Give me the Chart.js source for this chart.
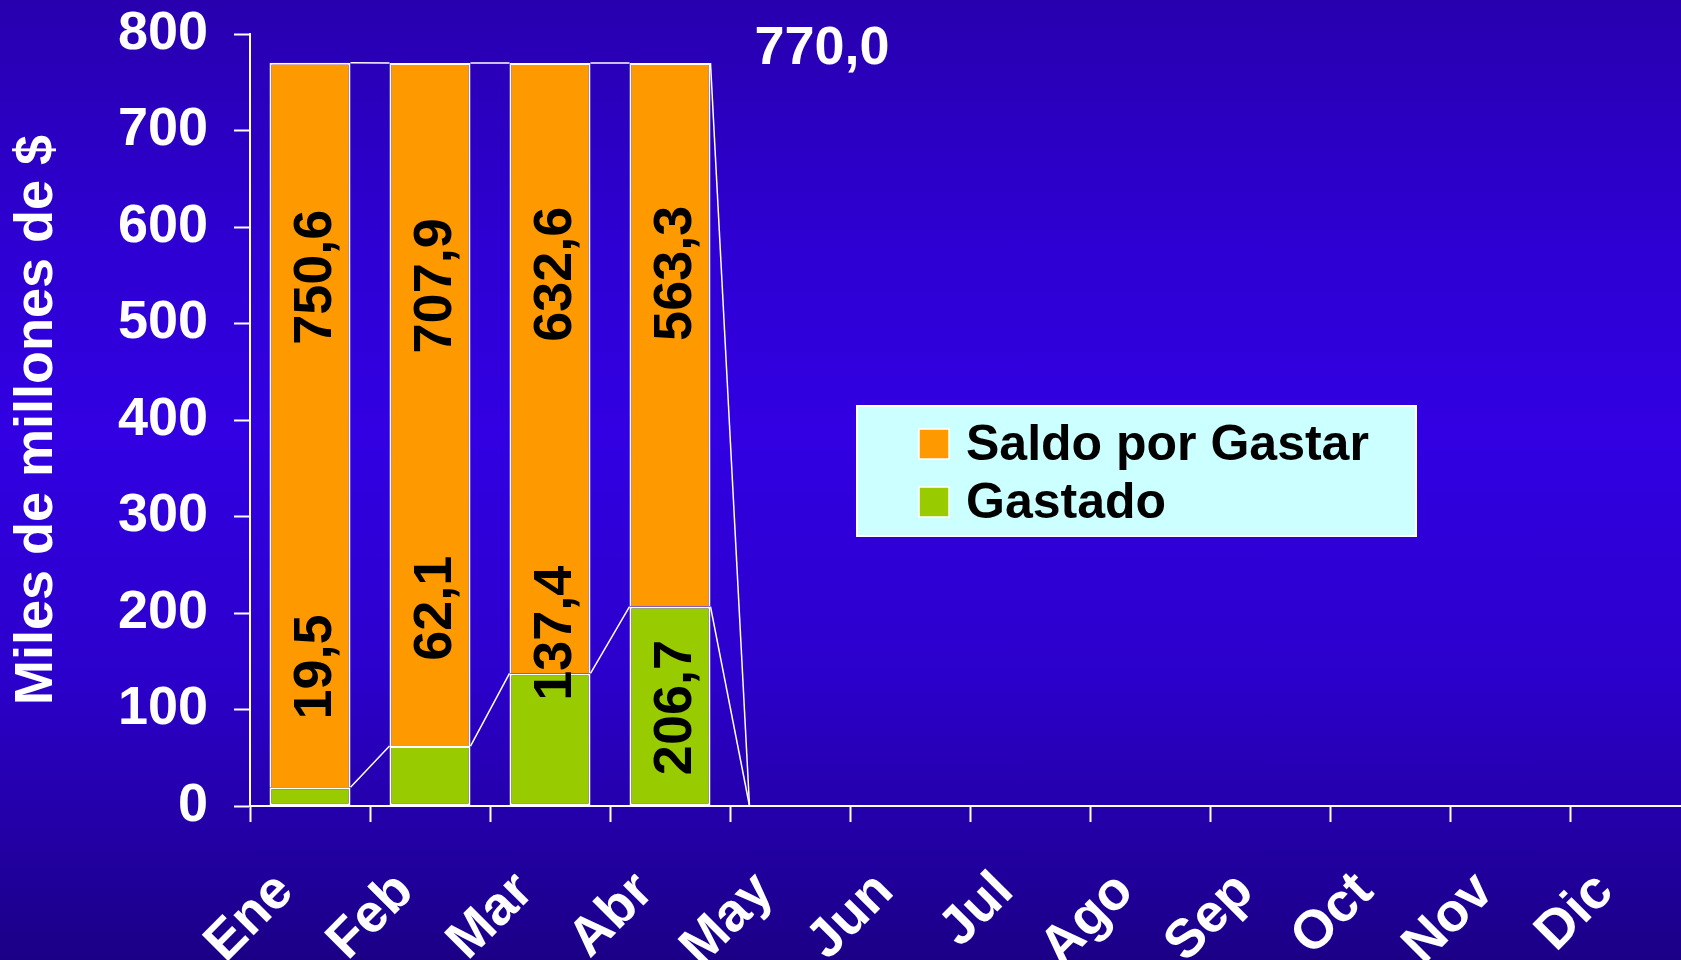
<!DOCTYPE html>
<html>
<head>
<meta charset="utf-8">
<script src="https://cdn.jsdelivr.net/npm/chart.js@4/dist/chart.umd.min.js"></script>
<style>
html, body { margin:0; padding:0; width:1681px; height:960px; overflow:hidden;
  background: linear-gradient(to bottom, #2800ae 0%, #2e00d2 25%, #3200e2 45%, #2c00cc 70%, #1b0086 100%); }
canvas { display:block; }
</style>
</head>
<body>
<canvas id="c" width="1690" height="960"></canvas>
<script>
// ---- data ----
const meses = ['Ene','Feb','Mar','Abr','May','Jun','Jul','Ago','Sep','Oct','Nov','Dic'];
const gastado = [19.5, 62.1, 137.4, 206.7, 0, null, null, null, null, null, null, null];
const saldoPorGastar = [750.6, 707.9, 632.6, 563.3, 0, null, null, null, null, null, null, null];
const presupuestoTotal = 770.0;
const yTickValues = [0, 100, 200, 300, 400, 500, 600, 700, 800];
const serieNombres = ['Gastado', 'Saldo por Gastar'];

const FONT = "'Liberation Sans', Arial, Helvetica, sans-serif";
Chart.defaults.font.family = FONT;

function fmt(v) { return v.toFixed(1).replace('.', ','); }

const decor = {
  id: 'decor',
  afterDatasetsDraw(chart, args, opts) {
    const ctx = chart.ctx;
    const y = chart.scales.y, x = chart.scales.x;
    const ds = chart.data.datasets;
    // series lines
    ctx.save();
    ctx.strokeStyle = '#ffffff';
    ctx.lineWidth = 1.5;
    for (let d = 0; d < ds.length; d++) {
      const meta = chart.getDatasetMeta(d);
      const cum = i => { let s = 0; for (let k = 0; k <= d; k++) { s += ds[k].data[i] || 0; } return s; };
      for (let i = 0; i < ds[d].data.length - 1; i++) {
        if (ds[d].data[i] == null || ds[d].data[i + 1] == null) continue;
        const a = meta.data[i], b = meta.data[i + 1];
        ctx.beginPath();
        ctx.moveTo(a.x + a.width / 2, y.getPixelForValue(cum(i)));
        ctx.lineTo(b.x - b.width / 2, y.getPixelForValue(cum(i + 1)));
        ctx.stroke();
      }
    }
    ctx.restore();

    // rotated value labels
    ctx.save();
    ctx.fillStyle = '#000000';
    ctx.font = 'bold 54px ' + FONT;
    ctx.textAlign = 'center';
    ctx.textBaseline = 'middle';
    for (let d = 0; d < ds.length; d++) {
      const meta = chart.getDatasetMeta(d);
      const anchors = opts.labelAnchors[d];
      ds[d].data.forEach((v, i) => {
        if (v == null || v === 0) return;
        const el = meta.data[i];
        ctx.save();
        ctx.translate(el.x + opts.labelShift, y.getPixelForValue(anchors[i]));
        ctx.rotate(-Math.PI / 2);
        ctx.fillText(fmt(v), 0, 0);
        ctx.restore();
      });
    }
    ctx.restore();

    // total label
    ctx.save();
    ctx.fillStyle = '#ffffff';
    ctx.font = 'bold 54px ' + FONT;
    ctx.textAlign = 'center';
    ctx.textBaseline = 'middle';
    ctx.fillText(fmt(presupuestoTotal), x.getPixelForValue(4) + 32, y.getPixelForValue(presupuestoTotal) - 14);
    ctx.restore();

    // legend
    const L = opts.legend;
    ctx.save();
    ctx.fillStyle = '#ccffff';
    ctx.fillRect(L.x, L.y, L.w, L.h);
    ctx.strokeStyle = '#ffffff';
    ctx.lineWidth = 2;
    ctx.strokeRect(L.x, L.y, L.w, L.h);
    ctx.font = 'bold 50px ' + FONT;
    ctx.textBaseline = 'middle';
    ctx.textAlign = 'left';
    const order = [1, 0];
    order.forEach((d, k) => {
      const cy = L.y + L.firstRow + k * L.rowGap;
      ctx.fillStyle = ds[d].backgroundColor;
      ctx.fillRect(L.markerX, cy - 15, 30, 30);
      ctx.strokeStyle = '#ffffff';
      ctx.lineWidth = 1.5;
      ctx.strokeRect(L.markerX, cy - 15, 30, 30);
      ctx.fillStyle = '#000000';
      ctx.fillText(ds[d].label, L.textX, cy + 2);
    });
    ctx.restore();
  }
};

new Chart(document.getElementById('c'), {
  type: 'bar',
  data: {
    labels: meses,
    datasets: [
      { label: serieNombres[0], data: gastado, backgroundColor: '#99cc00', borderColor: '#ffffff',
        borderWidth: 2, borderSkipped: false, categoryPercentage: 1, barPercentage: 0.675 },
      { label: serieNombres[1], data: saldoPorGastar, backgroundColor: '#ff9900', borderColor: '#ffffff',
        borderWidth: 2, borderSkipped: 'start', categoryPercentage: 1, barPercentage: 0.675 }
    ]
  },
  options: {
    responsive: false,
    animation: false,
    devicePixelRatio: 1,
    layout: { padding: { top: 34, left: 0, right: 0, bottom: 0 } },
    scales: {
      x: {
        stacked: true,
        grid: { display: true, drawOnChartArea: false, drawTicks: true, tickLength: 16, tickWidth: 2, tickColor: '#ffffff', offset: true },
        border: { display: true, color: '#ffffff', width: 2 },
        ticks: { color: '#ffffff', font: { size: 54, weight: 'bold' }, minRotation: 45, maxRotation: 45, autoSkip: false, padding: 38, labelOffset: -25 },
        afterFit(s) { s.height = 154; s.paddingLeft = 0; s.paddingRight = 0; }
      },
      y: {
        stacked: true,
        min: 0, max: 800,
        afterBuildTicks(s) { s.ticks = yTickValues.map(v => ({ value: v })); },
        grid: { display: true, drawOnChartArea: false, drawTicks: true, tickLength: 16, tickWidth: 2, tickColor: '#ffffff' },
        border: { display: true, color: '#ffffff', width: 2 },
        ticks: { color: '#ffffff', font: { size: 54, weight: 'bold' }, padding: 26 },
        title: { display: true, text: 'Miles de millones de $', color: '#ffffff', font: { size: 54, weight: 'bold' }, padding: { top: 5, bottom: 0 } },
        afterFit(s) { s.width = 250; s.paddingTop = 0; s.paddingBottom = 0; }
      }
    },
    plugins: {
      legend: { display: false },
      tooltip: { enabled: false },
      decor: {
        labelShift: 6,
        labelAnchors: [[144, 205, 179, 102], [548, 539, 551, 552]],
        legend: { x: 857, y: 406, w: 559, h: 130, markerX: 919, textX: 966, firstRow: 38, rowGap: 58 }
      }
    }
  },
  plugins: [decor]
});
</script>
</body>
</html>
